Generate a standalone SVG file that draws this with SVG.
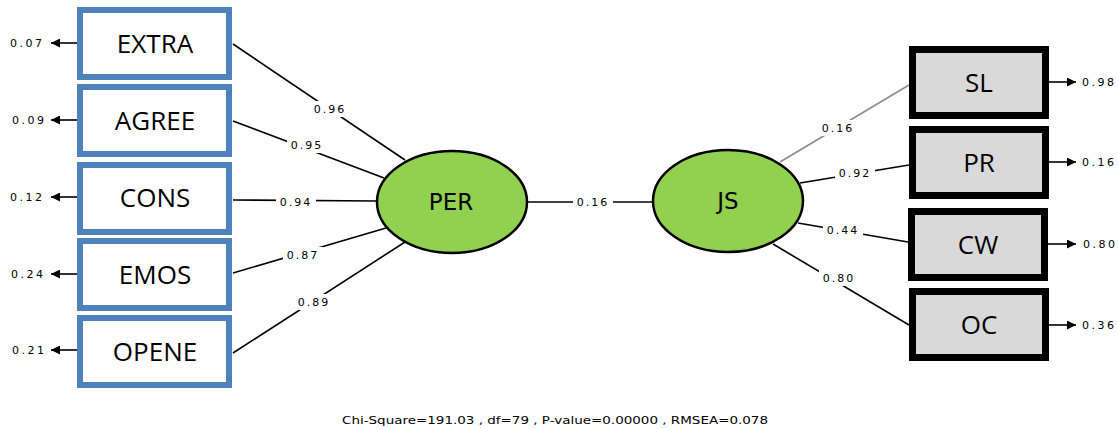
<svg xmlns="http://www.w3.org/2000/svg" width="1118" height="429" viewBox="0 0 1118 429">
<style>
.obs{fill:#fff;stroke:#4F81BD;stroke-width:6}
.obsr{fill:#D9D9D9;stroke:#000;stroke-width:7}
.lat{fill:#92D050;stroke:#000;stroke-width:2.5}
.nt{font-family:"Open Sans","Liberation Sans",sans-serif;font-size:26px;fill:#000;text-anchor:middle}
.lt{font-family:"DejaVu Sans",sans-serif;font-size:23px;fill:#000;text-anchor:middle}
.c{stroke:#000;stroke-width:1.6;fill:none}
.g{stroke:#8c8c8c;stroke-width:1.6;fill:none}
.bg{fill:#fff}
.lab{font-family:"DejaVu Sans",sans-serif;font-size:11px;letter-spacing:2px;fill:#000;text-anchor:middle}
.err{font-family:"DejaVu Sans",sans-serif;font-size:11px;letter-spacing:2.5px;fill:#000}
</style>
<defs>
<marker id="ah" viewBox="0 0 10 10" refX="10" refY="5" markerWidth="10" markerHeight="9" markerUnits="userSpaceOnUse" orient="auto">
<path d="M0,0 L10,5 L0,10 z" fill="#000"/>
</marker>
</defs>
<g id="connectors">
<line class="c" x1="233" y1="44" x2="405" y2="160"/>
<line class="c" x1="233" y1="121" x2="384" y2="178"/>
<line class="c" x1="233" y1="200" x2="377" y2="201"/>
<line class="c" x1="233" y1="273" x2="386" y2="228"/>
<line class="c" x1="233" y1="353" x2="405" y2="242"/>
<line class="c" x1="527" y1="202" x2="653" y2="202"/>
<line class="g" x1="780" y1="162" x2="909" y2="85"/>
<line class="c" x1="800" y1="183" x2="909" y2="165"/>
<line class="c" x1="798" y1="223" x2="908" y2="242"/>
<line class="c" x1="773" y1="244" x2="909" y2="325"/>
<line class="c" x1="77" y1="43" x2="51" y2="43" marker-end="url(#ah)"/>
<line class="c" x1="77" y1="120" x2="51" y2="120" marker-end="url(#ah)"/>
<line class="c" x1="77" y1="197" x2="51" y2="197" marker-end="url(#ah)"/>
<line class="c" x1="77" y1="274" x2="51" y2="274" marker-end="url(#ah)"/>
<line class="c" x1="77" y1="350" x2="51" y2="350" marker-end="url(#ah)"/>
<line class="c" x1="1049" y1="82" x2="1076" y2="82" marker-end="url(#ah)"/>
<line class="c" x1="1049" y1="162" x2="1076" y2="162" marker-end="url(#ah)"/>
<line class="c" x1="1048" y1="244" x2="1076" y2="244" marker-end="url(#ah)"/>
<line class="c" x1="1049" y1="325" x2="1076" y2="325" marker-end="url(#ah)"/>
<rect class="bg" x="310" y="101" width="40" height="16"/>
<rect class="bg" x="287" y="137" width="40" height="16"/>
<rect class="bg" x="276" y="194" width="40" height="16"/>
<rect class="bg" x="283" y="247" width="40" height="16"/>
<rect class="bg" x="294" y="294" width="40" height="16"/>
<rect class="bg" x="573" y="194" width="40" height="16"/>
<rect class="bg" x="818" y="120" width="40" height="16"/>
<rect class="bg" x="835" y="165" width="40" height="16"/>
<rect class="bg" x="823" y="222" width="40" height="16"/>
<rect class="bg" x="819" y="270" width="40" height="16"/>
<text class="lab" x="330" y="113">0.96</text>
<text class="lab" x="307" y="149">0.95</text>
<text class="lab" x="296" y="206">0.94</text>
<text class="lab" x="303" y="259">0.87</text>
<text class="lab" x="314" y="306">0.89</text>
<text class="lab" x="593" y="206">0.16</text>
<text class="lab" x="838" y="132">0.16</text>
<text class="lab" x="855" y="177">0.92</text>
<text class="lab" x="843" y="234">0.44</text>
<text class="lab" x="839" y="282">0.80</text>
<text class="err" x="10" y="47">0.07</text>
<text class="err" x="12" y="124">0.09</text>
<text class="err" x="10" y="201">0.12</text>
<text class="err" x="11" y="278">0.24</text>
<text class="err" x="12" y="354">0.21</text>
<text class="err" x="1082" y="86">0.98</text>
<text class="err" x="1082" y="166">0.16</text>
<text class="err" x="1083" y="248">0.80</text>
<text class="err" x="1082" y="329">0.36</text>
</g>
<g id="EXTRA"><rect class="obs" x="80" y="10" width="149" height="67"/><text class="nt" x="155" y="53">EXTRA</text></g>
<g id="AGREE"><rect class="obs" x="80" y="87" width="149" height="67"/><text class="nt" x="155" y="130">AGREE</text></g>
<g id="CONS"><rect class="obs" x="80" y="165" width="149" height="67"/><text class="nt" x="155" y="207">CONS</text></g>
<g id="EMOS"><rect class="obs" x="80" y="241" width="149" height="67"/><text class="nt" x="155" y="284">EMOS</text></g>
<g id="OPENE"><rect class="obs" x="80" y="318" width="149" height="67"/><text class="nt" x="155" y="361">OPENE</text></g>
<g id="PER"><ellipse class="lat" cx="452" cy="202" rx="75" ry="51"/><text class="lt" x="451" y="210">PER</text></g>
<g id="JS"><ellipse class="lat" cx="728" cy="201" rx="75" ry="51"/><text class="lt" x="728" y="209">JS</text></g>
<g id="SL"><rect class="obsr" x="912.5" y="49.5" width="133" height="66"/><text class="nt" x="979" y="92">SL</text></g>
<g id="PR"><rect class="obsr" x="912.5" y="129.5" width="133" height="66"/><text class="nt" x="979" y="172">PR</text></g>
<g id="CW"><rect class="obsr" x="911.5" y="211.5" width="133" height="66"/><text class="nt" x="978" y="254">CW</text></g>
<g id="OC"><rect class="obsr" x="912.5" y="291.5" width="133" height="66"/><text class="nt" x="979" y="334">OC</text></g>
<text x="555" y="424" text-anchor="middle" font-family="DejaVu Sans, sans-serif" font-size="11" textLength="426" lengthAdjust="spacingAndGlyphs">Chi-Square=191.03 , df=79 , P-value=0.00000 , RMSEA=0.078</text>
</svg>
